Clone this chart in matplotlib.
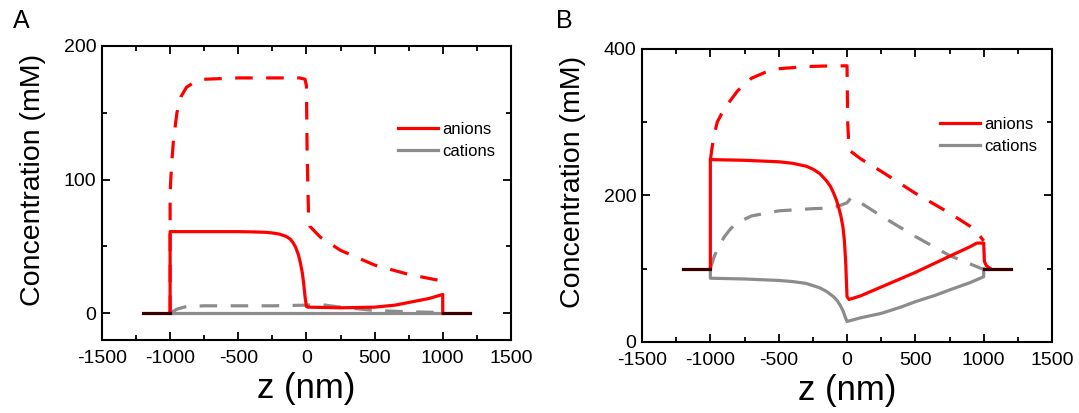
import numpy as np
import matplotlib
matplotlib.use("Agg")
import matplotlib.pyplot as plt

plt.rcParams['font.family'] = ['Liberation Sans', 'DejaVu Sans']
plt.rcParams['axes.unicode_minus'] = False

RED = '#ff0000'
GRAY = '#8c8c8c'
DARK = '#3a0000'

## panel A data (z in nm, concentration in mM)
zA_an = [-1000, -1000, -750, -500, -400, -300, -250, -200, -150, -120, -100, -80, -60, -45, -30, -20, -10, 0, 10, 250, 500, 650, 750, 900, 1000, 1000]
cA_an = [0, 61, 61, 61, 60.8, 60.5, 60, 59.2, 57.5, 55.5, 53, 49.5, 44, 38, 30, 22, 12, 5, 4.5, 4, 4.5, 6, 8, 11, 14, 0]
zA_an_d = [-1000, -1000, -990, -975, -950, -920, -880, -820, -750, -500, -250, -50, -10, 0, 5, 15, 25, 100, 250, 500, 750, 1000]
cA_an_d = [0, 90, 110, 130, 150, 162, 169, 173, 175, 176, 176, 176, 175, 170, 120, 75, 65, 57, 47, 36, 29, 24]
zA_cat = [-1000, 1000]
cA_cat = [0.3, 0.3]
zA_cat_d = [-1000, -950, -880, -750, -500, -250, 0, 100, 250, 500, 750, 1000]
cA_cat_d = [0, 3, 5, 5.5, 5.5, 5.5, 6, 6.5, 4.5, 2, 1, 0.5]
bulkA = 0

## panel B data
zB_an = [-1000, -1000, -750, -500, -400, -300, -250, -200, -150, -120, -100, -80, -60, -45, -30, -20, -10, 0, 15, 100, 250, 500, 750, 900, 950, 1000, 1005, 1020, 1050]
cB_an = [100, 249, 248, 246, 244, 240, 236, 230, 220, 212, 204, 195, 183, 172, 157, 140, 110, 62, 58, 63, 75, 95, 117, 130, 135, 135, 110, 104, 100]
zB_an_d = [-1000, -990, -975, -950, -900, -800, -700, -600, -500, -300, -100, 0, 5, 15, 100, 250, 500, 750, 900, 950, 1000]
cB_an_d = [248, 262, 280, 300, 318, 343, 360, 368, 373, 376, 377, 377, 300, 262, 250, 233, 203, 176, 158, 150, 138]
zB_cat = [-1000, -1000, -750, -500, -400, -300, -200, -150, -100, -70, -50, -30, -15, 0, 100, 250, 400, 500, 650, 750, 900, 1000, 1000]
cB_cat = [100, 87, 86, 84, 82.5, 80, 74, 69, 62, 56, 50, 43, 35, 28, 33, 39, 48, 55, 64, 71, 81, 89, 100]
zB_cat_d = [-1000, -975, -950, -900, -850, -800, -700, -500, -250, -100, 0, 30, 100, 250, 500, 750, 1000]
cB_cat_d = [100, 115, 126, 143, 155, 163, 172, 179, 182, 183, 190, 197, 190, 172, 144, 118, 99]
bulkB = 100

z_bulk_left = [-1200, -1000]
z_bulk_right = [1000, 1200]


def style_axes(ax, ylim, ymajor, yminor):
    ax.set_xlim(-1500, 1500)
    ax.set_ylim(*ylim)
    ax.set_xticks(np.arange(-1500, 1501, 500))
    ax.set_xticks(np.arange(-1250, 1500, 500), minor=True)
    ax.set_yticks(ymajor)
    ax.set_yticks(yminor, minor=True)
    ax.tick_params(which='both', direction='in', top=True, right=True, labelsize=14, width=1.3)
    ax.tick_params(which='major', length=6)
    ax.tick_params(axis='x', which='major', pad=7)
    ax.tick_params(axis='y', which='major', pad=4)
    ax.tick_params(which='minor', length=3.5)
    for s in ax.spines.values():
        s.set_linewidth(1.5)
    ax.set_xlabel("z (nm)", fontsize=25, labelpad=4)
    ax.set_ylabel("Concentration (mM)", fontsize=20.5)
    ax.yaxis.set_label_coords(-0.137, 0.545)


def draw(ax, data, bulk, leg_anchor):
    za, ca, zad, cad, zc, cc, zcd, ccd = data
    lw = 2.3
    dash = (5.5, 4.2)
    ax.plot(zcd, ccd, color=GRAY, lw=lw, dashes=dash)
    ax.plot(zc, cc, color=GRAY, lw=lw, label='cations')
    ax.plot(zad, cad, color=RED, lw=lw, dashes=dash)
    ax.plot(za, ca, color=RED, lw=lw, label='anions')
    ax.plot(z_bulk_left, [bulk, bulk], color=DARK, lw=lw)
    ax.plot(z_bulk_right, [bulk, bulk], color=DARK, lw=lw)
    h, l = ax.get_legend_handles_labels()
    ax.legend(h[::-1], l[::-1], loc='upper left', bbox_to_anchor=leg_anchor, frameon=False,
              fontsize=12, handlelength=2.4, handletextpad=0.2, labelspacing=0.4, borderpad=0, borderaxespad=0)


fig = plt.figure(figsize=(10.79, 4.13), dpi=100)

axA = fig.add_axes([0.0945, 0.177, 0.379, 0.712])
draw(axA, (zA_an, cA_an, zA_an_d, cA_an_d, zA_cat, cA_cat, zA_cat_d, cA_cat_d), bulkA, (0.725, 0.74))
style_axes(axA, (-20, 200), [0, 100, 200], [50, 150])

axB = fig.add_axes([0.595, 0.172, 0.380, 0.7094])
draw(axB, (zB_an, cB_an, zB_an_d, cB_an_d, zB_cat, cB_cat, zB_cat_d, cB_cat_d), bulkB, (0.728, 0.768))
style_axes(axB, (0, 400), [0, 200, 400], [100, 300])

fig.text(0.020, 0.95, "A", fontsize=18, ha='center', va='center')
fig.text(0.523, 0.95, "B", fontsize=18, ha='center', va='center')

fig.savefig("out.png", dpi=100)
